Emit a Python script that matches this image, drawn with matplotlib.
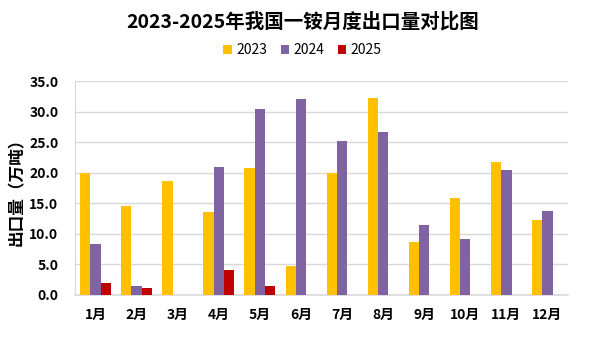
import numpy as np
import matplotlib.pyplot as plt

plt.rcParams['font.family'] = ['Noto Sans CJK SC', 'DejaVu Sans']

# 数据（万吨）
months = ["1月", "2月", "3月", "4月", "5月", "6月", "7月", "8月", "9月", "10月", "11月", "12月"]
y2023 = [20.0, 14.6, 18.7, 13.5, 20.8, 4.8, 19.9, 32.3, 8.7, 15.9, 21.8, 12.2]
y2024 = [8.4, 1.4, 0, 21.0, 30.5, 32.0, 25.2, 26.7, 11.5, 9.1, 20.5, 13.8]
y2025 = [2.0, 1.2, 0, 4.1, 1.5, 0, 0, 0, 0, 0, 0, 0]
series = ["2023", "2024", "2025"]
colors = ["#FFC000", "#8064A2", "#C00000"]

fig = plt.figure(figsize=(6.05, 3.39), dpi=100)
ax = fig.add_axes([75 / 605, 1 - 295 / 339, 493 / 605, 214 / 339])

x = np.arange(len(months))
w = 0.25
for i, (vals, name, c) in enumerate(zip([y2023, y2024, y2025], series, colors)):
    ax.bar(x + (i - 1) * w, vals, width=w, color=c, label=name, zorder=3)

ax.set_xlim(-0.5, len(months) - 0.5)
ax.set_ylim(0, 35)
ax.set_yticks(np.arange(0, 35.1, 5))
ax.set_yticklabels([f"{v:.1f}" for v in np.arange(0, 35.1, 5)], fontweight="bold", fontsize=10)
ax.set_xticks(x)
ax.set_xticklabels(months, fontweight="bold", fontsize=10)
ax.tick_params(axis="y", length=0, pad=12)
ax.tick_params(axis="x", length=0, pad=9)
ax.grid(axis="y", color="#D9D9D9", linewidth=1, zorder=0)
for s in ["top", "right"]:
    ax.spines[s].set_visible(False)
ax.spines["left"].set_color("#D9D9D9")
ax.spines["bottom"].set_color("#D9D9D9")
ax.spines["bottom"].set_linewidth(1.2)

ax.set_ylabel("出口量（万吨）", fontsize=12, fontweight="bold")
ax.yaxis.set_label_coords(-49 / 493, 0.5)

fig.text(0.5, 1 - 22 / 339, "2023-2025年我国一铵月度出口量对比图", ha="center", va="center",
         fontsize=14, fontweight="bold")
fig.legend(loc="center", bbox_to_anchor=(0.5, 1 - 50 / 339), ncol=3, frameon=False,
           fontsize=10, handlelength=0.6, handleheight=0.6, handletextpad=0.3,
           columnspacing=1.0)

fig.savefig("out.png", dpi=100)
